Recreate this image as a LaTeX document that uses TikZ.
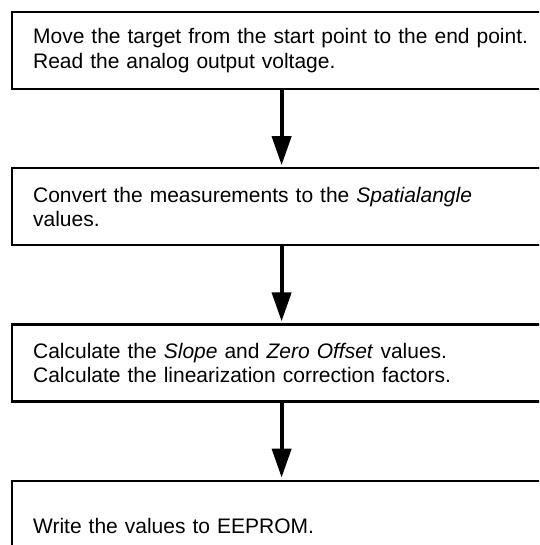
\documentclass[tikz,border=0pt]{standalone}
\usepackage{fontspec}
\setmainfont{Liberation Sans}
\usetikzlibrary{arrows.meta}
\usetikzlibrary{positioning}
\tikzset{stepbox/.style = {draw, line width=2.2pt, anchor=north west,
                           text width=497pt, align=left, inner xsep=21pt,
                           inner ysep=0pt, minimum height=77pt,
                           font=\fontsize{21}{24.5}\selectfont}}
\tikzset{flow/.style = {line width=4pt, shorten >=2pt,
                        -{Triangle[length=29pt, width=19pt]}}}

\begin{document}
\begin{tikzpicture}[x=1pt, y=1pt]
      \useasboundingbox (0, 0) rectangle (539, -545);
      \clip (0, 0) rectangle (539, -545);
      \node [stepbox] (move) at (11, -11)
            {Move the target from the start point to the end point.\\
             Read the analog output voltage.};
      \node [stepbox, below=77pt of move] (convert)
            {Convert the measurements to the \textit{Spatialangle}\\
             values.};
      \node [stepbox, below=77pt of convert] (calc)
            {Calculate the \textit{Slope} and \textit{Zero Offset} values.\\
             Calculate the linearization correction factors.};
      \node [stepbox, minimum height=91pt, below=77pt of calc] (write)
            {Write the values to EEPROM.};
      \draw [flow] (move) -- (convert);
      \draw [flow] (convert) -- (calc);
      \draw [flow] (calc) -- (write);
    \end{tikzpicture}
\end{document}
